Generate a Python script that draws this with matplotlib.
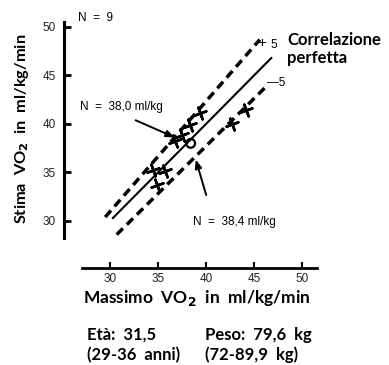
"""
Stima vs massimo VO2 con linee di correlazione perfetta (+/-5).
"""
import numpy as np
import matplotlib
matplotlib.use("Agg")
import matplotlib.pyplot as plt
from matplotlib.markers import MarkerStyle

matplotlib.rcParams.update({"font.family": "DejaVu Sans", "mathtext.fontset": "dejavusans"})

# valori
measured  = [39.4, 38.3, 37.5, 36.8, 34.5, 35.7, 34.9, 42.7, 44.2]
estimated = [41.1, 39.9, 38.9, 38.2, 35.3, 35.1, 33.7, 40.0, 41.4]
mean_measured, mean_estimated = 38.4, 38.0

ident_x, ident_y = [30.3, 46.8], [30.3, 46.8]
upper_x, upper_y = [29.5, 45.6], [30.4, 48.7]
lower_x, lower_y = [30.7, 46.1], [28.6, 43.7]

ticks = [30, 35, 40, 45, 50]

W, H = 389, 365
BIG = "Lato"
SMALL = "Liberation Sans"


def fx(px):
    return px / W


def fy(py):
    return 1 - py / H


fig = plt.figure(figsize=(W / 100, H / 100), dpi=100)
ax = fig.add_axes([0, 0, 1, 1])
ax.set_xlim(18.54, 59.06)
ax.set_ylim(15.15, 52.78)

for s in ("top", "right"):
    ax.spines[s].set_visible(False)
ax.spines["left"].set_position(("data", 25.2))
ax.spines["left"].set_bounds(28.2, 50.5)
ax.spines["bottom"].set_position(("data", 25.15))
ax.spines["bottom"].set_bounds(27.1, 51.6)
ax.spines["left"].set_linewidth(2.2)
ax.spines["bottom"].set_linewidth(2.0)

ax.set_xticks(ticks)
ax.set_yticks(ticks)
ax.tick_params(axis="y", direction="in", length=5, width=2, labelsize=8.5,
               pad=6, labelcolor="#222", labelfontfamily=SMALL)
ax.tick_params(axis="x", direction="in", length=4, width=1.5, labelsize=8.5,
               pad=3.5, labelcolor="#222", labelfontfamily=SMALL)

ax.plot(ident_x, ident_y, color="black", lw=1.5)
ax.plot(upper_x, upper_y, color="black", lw=2.5, dashes=(2.5, 1.6))
ax.plot(lower_x, lower_y, color="black", lw=2.5, dashes=(2.5, 1.6))

cross = MarkerStyle((4, 2, 20))
ax.scatter(measured, estimated, marker=cross, s=80, color="black", linewidths=1.8, zorder=3)
ax.scatter([mean_measured], [mean_estimated], marker="o", s=40, facecolor="none",
           edgecolor="black", linewidths=1.6, zorder=3)

arrow = dict(arrowstyle="-|>,head_length=0.5,head_width=0.2", color="black", lw=1.4)
ax.annotate("", xy=(37.0, 38.5), xytext=(32.4, 40.5), arrowprops=arrow)
ax.annotate("", xy=(38.85, 36.6), xytext=(40.1, 32.4), arrowprops=arrow)

# testi
fig.text(fx(78), fy(18), "N  =  9", family=SMALL, fontsize=8.5, va="center")
fig.text(fx(80), fy(107), "N  =  38,0 ml/kg", family=SMALL, fontsize=8.5, va="center")
fig.text(fx(193), fy(222), "N  =  38,4 ml/kg", family=SMALL, fontsize=8.5, va="center")
fig.text(fx(257), fy(43), "+", family=SMALL, fontsize=11, va="center")
fig.text(fx(270), fy(45), "5", family=SMALL, fontsize=8.5, va="center")
fig.text(fx(267), fy(83), "—5", family=SMALL, fontsize=8.5, va="center")
fig.text(fx(287), fy(40), "Correlazione", family=BIG, fontweight="bold", fontsize=12, va="center")
fig.text(fx(287), fy(58), "perfetta", family=BIG, fontweight="bold", fontsize=12, va="center")

fig.text(fx(22), fy(129), r"Stima  VO$_\mathbf{2}$  in  ml/kg/min", family=BIG,
         fontweight="bold", fontsize=11.8, rotation=90, ha="center", va="center")
fig.text(fx(197), fy(298), r"Massimo  VO$_\mathbf{2}$  in  ml/kg/min", family=BIG,
         fontweight="bold", fontsize=12.5, ha="center", va="center")

fig.text(fx(87), fy(335), "Età:  31,5", family=BIG, fontweight="bold", fontsize=12, va="center")
fig.text(fx(205), fy(335), "Peso:  79,6  kg", family=BIG, fontweight="bold", fontsize=12, va="center")
fig.text(fx(87), fy(355), "(29-36  anni)", family=BIG, fontweight="bold", fontsize=12, va="center")
fig.text(fx(205), fy(355), "(72-89,9  kg)", family=BIG, fontweight="bold", fontsize=12, va="center")

fig.savefig("out.png", dpi=100)
